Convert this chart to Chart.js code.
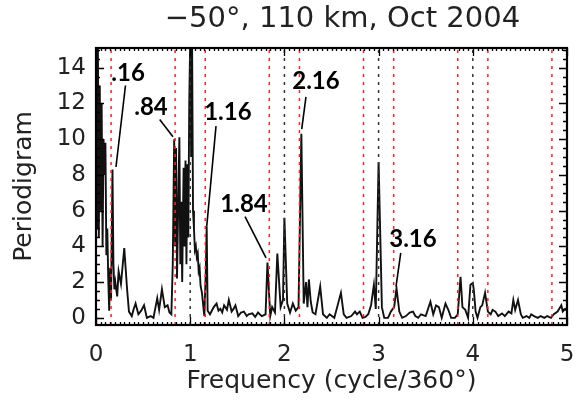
<!DOCTYPE html>
<html>
<head>
<meta charset="utf-8">
<script src="https://cdn.jsdelivr.net/npm/chart.js@4.4.1/dist/chart.umd.min.js"></script>
<style>
  body { margin: 0; background: #fff; }
  canvas { display: block; }
</style>
</head>
<body>
<canvas id="periodogram" width="576" height="409"></canvas>
<script>
// frequency (cycle/360 deg) and periodogram power
const freq = [
    0.00, 0.005, 0.01, 0.015, 0.02, 0.03, 0.04, 0.05, 0.06, 0.07,
    0.08, 0.09, 0.10, 0.11, 0.12, 0.13, 0.14, 0.15, 0.16, 0.175,
    0.185, 0.195, 0.205, 0.225, 0.24, 0.265, 0.30, 0.33, 0.35, 0.38,
    0.40, 0.42, 0.45, 0.48, 0.51, 0.54, 0.58, 0.61, 0.65, 0.67,
    0.70, 0.73, 0.76, 0.78, 0.80, 0.815, 0.83, 0.84, 0.85, 0.86,
    0.875, 0.885, 0.895, 0.905, 0.915, 0.93, 0.94, 0.95, 0.96, 0.97,
    0.98, 0.99, 1.00, 1.01, 1.02, 1.03, 1.04, 1.05, 1.06, 1.07,
    1.08, 1.09, 1.10, 1.11, 1.125, 1.14, 1.15, 1.165, 1.175, 1.185,
    1.21, 1.25, 1.28, 1.30, 1.32, 1.34, 1.36, 1.39, 1.41, 1.44,
    1.46, 1.48, 1.51, 1.54, 1.57, 1.60, 1.62, 1.66, 1.69, 1.72,
    1.76, 1.80, 1.82, 1.85, 1.87, 1.90, 1.925, 1.96, 1.985, 2.00,
    2.03, 2.06, 2.09, 2.12, 2.15, 2.18, 2.205, 2.23, 2.245, 2.26,
    2.28, 2.30, 2.33, 2.38, 2.41, 2.45, 2.48, 2.53, 2.56, 2.60,
    2.63, 2.66, 2.71, 2.75, 2.77, 2.80, 2.83, 2.86, 2.89, 2.92,
    2.95, 2.97, 3.00, 3.035, 3.06, 3.10, 3.13, 3.165, 3.19, 3.22,
    3.25, 3.29, 3.33, 3.365, 3.39, 3.42, 3.45, 3.50, 3.55, 3.58,
    3.61, 3.64, 3.67, 3.71, 3.74, 3.77, 3.81, 3.84, 3.87, 3.89,
    3.92, 3.95, 3.975, 4.00, 4.01, 4.03, 4.05, 4.08, 4.10, 4.13,
    4.16, 4.19, 4.21, 4.24, 4.27, 4.31, 4.34, 4.38, 4.41, 4.43,
    4.45, 4.48, 4.51, 4.53, 4.57, 4.60, 4.62, 4.65, 4.69, 4.72,
    4.76, 4.79, 4.83, 4.86, 4.90, 4.94, 4.955, 4.98, 5.00
];
const power = [
    15.5, 6.0, 14.0, 5.0, 15.5, 4.5, 13.0, 6.0, 12.0, 4.0,
    10.0, 8.0, 9.8, 3.5, 5.0, 2.2, 0.4, 2.8, 1.0, 8.3,
    3.0, 1.6, 2.0, 1.2, 2.6, 1.9, 3.9, 1.6, 0.35, 0.1,
    0.5, 0.8, 0.2, 0.4, 0.7, 0.0, 0.1, 0.0, 1.1, 0.45,
    1.6, 0.6, 0.7, 0.3, 0.2, 3.0, 10.0, 4.0, 9.5, 2.2,
    7.0, 10.1, 3.0, 6.5, 2.0, 8.4, 4.0, 8.8, 3.0, 8.6,
    4.5, 12.0, 15.5, 9.0, 15.5, 6.0, 5.0, 3.8, 4.0, 3.4,
    3.6, 2.6, 2.8, 1.8, 1.4, 0.6, 0.1, 2.5, 5.1, 0.4,
    0.2, 0.6, 0.8, 0.4, 0.5, 0.3, 0.7, 0.45, 1.0, 0.35,
    0.5, 0.7, 0.1, 0.3, 0.35, 0.1, 0.2, 0.25, 0.05, 0.3,
    0.1, 0.2, 3.1, 0.1, 0.6, 0.3, 3.6, 0.6, 1.0, 5.6,
    0.8, 0.3, 0.8, 0.4, 0.6, 10.3, 0.8, 2.0, 0.6, 2.15,
    0.9, 0.3, 0.2, 1.75, 0.2, 0.0, 0.2, 0.0, 0.6, 1.4,
    0.2, 0.0, 0.1, 0.35, 0.2, 0.35, 0.0, 0.05, 0.2, 0.7,
    1.85, 0.5, 8.7, 0.6, 0.0, 0.0, 0.35, 0.6, 1.65, 0.35,
    0.0, 0.1, 0.3, 0.35, 0.1, 0.0, 0.2, 0.1, 0.9, 0.2,
    0.7, 0.6, 0.0, 0.8, 0.45, 0.0, 0.0, 0.2, 2.3, 0.6,
    0.45, 0.0, 1.85, 1.95, 1.6, 0.35, 0.0, 0.6, 0.7, 1.4,
    0.35, 0.2, 0.45, 0.35, 0.1, 0.25, 0.1, 0.35, 0.25, 1.0,
    0.45, 1.0, 0.2, 0.0, 0.1, 0.0, 0.2, 0.1, 0.0, 0.1,
    0.0, 0.1, 0.0, 0.2, 0.35, 0.7, 0.35, 0.5, 0.4
];

// dashed reference frequencies
const sideBandFreqs = [0.16, 0.84, 1.16, 1.84, 2.16, 2.84, 3.16, 3.84, 4.16, 4.84];
const harmonicFreqs = [1, 2, 3, 4];

// tick labels
const xTickValues = [0, 1, 2, 3, 4, 5];
const yTickValues = [0, 2, 4, 6, 8, 10, 12, 14];

// peak labels: text, text position and leader line (data units)
const peakLabels = ['.16', '.84', '1.16', '1.84', '2.16', '3.16'];
const labelPos = [[0.34, 13.7], [0.584, 11.8], [1.40, 11.5], [1.571, 6.37], [2.335, 13.24], [3.365, 4.41]];
const leaderFrom = [[0.313, 13.0], [0.676, 11.1], [1.274, 10.73], [1.582, 5.66], [2.229, 12.36], [3.235, 3.63]];
const leaderTo = [[0.212, 8.44], [0.817, 10.13], [1.175, 5.1], [1.805, 3.35], [2.184, 10.56], [3.185, 1.75]];

const Y_MIN = -0.4;
const Y_MAX = 15.1;
const FONT = 'DejaVu Sans';

function verticalLine(f, color) {
    return {
        data: [{x: f, y: Y_MIN}, {x: f, y: Y_MAX}],
        borderColor: color,
        borderWidth: 1.5,
        borderDash: [3, 5],
        pointRadius: 0,
        order: 1
    };
}

let datasets = [];

// leader lines, on top
for (let i = 0; i < peakLabels.length; i++) {
    datasets.push({
        data: [{x: leaderFrom[i][0], y: leaderFrom[i][1]}, {x: leaderTo[i][0], y: leaderTo[i][1]}],
        borderColor: '#000',
        borderWidth: 1.6,
        pointRadius: 0,
        order: 0
    });
}
sideBandFreqs.forEach(f => datasets.push(verticalLine(f, '#ff2020')));
harmonicFreqs.forEach(f => datasets.push(verticalLine(f, '#333')));

datasets.push({
    data: freq.map((f, i) => ({x: f, y: power[i]})),
    borderColor: '#111',
    borderWidth: 1.9,
    pointRadius: 0,
    tension: 0,
    order: 2
});

/*
 * box, inward ticks, title and peak labels
 */
const framePlugin = {
    id: 'framePlugin',
    afterDatasetsDraw(chart) {
        const {ctx, chartArea: a, scales: {x, y}} = chart;
        ctx.save();
        ctx.strokeStyle = '#000';

        // minor + major ticks on all four sides
        ctx.lineWidth = 1.3;
        ctx.beginPath();
        for (let k = 0; k <= 100; k++) {
            let px = Math.round(x.getPixelForValue(k * 0.05)) + 0.5;
            let len = (k % 20 === 0) ? 8 : 3;
            ctx.moveTo(px, a.bottom); ctx.lineTo(px, a.bottom - len);
            ctx.moveTo(px, a.top); ctx.lineTo(px, a.top + len);
        }
        for (let k = 0; k <= 30; k++) {
            let py = Math.round(y.getPixelForValue(k * 0.5)) + 0.5;
            let len = (k % 4 === 0) ? 8 : 4;
            ctx.moveTo(a.left, py); ctx.lineTo(a.left + len, py);
            ctx.moveTo(a.right, py); ctx.lineTo(a.right - len, py);
        }
        ctx.stroke();

        ctx.lineWidth = 2.2;
        ctx.strokeRect(a.left, a.top, a.right - a.left, a.bottom - a.top);

        // title
        ctx.fillStyle = '#222';
        ctx.font = '29px "' + FONT + '"';
        ctx.textAlign = 'center';
        ctx.textBaseline = 'middle';
        ctx.fillText('\u221250\u00b0, 110 km, Oct 2004', (a.left + a.right) / 2 + 11, 19);

        // peak labels
        ctx.fillStyle = '#000';
        ctx.font = 'bold 24px Lato';
        for (let i = 0; i < peakLabels.length; i++) {
            ctx.fillText(peakLabels[i], x.getPixelForValue(labelPos[i][0]), y.getPixelForValue(labelPos[i][1]));
        }
        ctx.restore();
    }
};

const tickFont = {family: FONT, size: 23};
const titleFont = {family: FONT, size: 25};

new Chart(document.getElementById('periodogram'), {
    type: 'line',
    data: {datasets: datasets},
    options: {
        responsive: false,
        animation: false,
        layout: {padding: {top: 48, right: 9, left: 0, bottom: 0}},
        plugins: {
            legend: {display: false},
            tooltip: {enabled: false},
            title: {display: false}
        },
        scales: {
            x: {
                type: 'linear',
                min: 0,
                max: 5,
                afterBuildTicks: s => { s.ticks = xTickValues.map(v => ({value: v})); },
                afterFit: s => {
                    s.height = 84;
                    // tick labels may overhang the plot box, like the original
                    s.paddingLeft = 0;
                    s.paddingRight = 0;
                },
                grid: {display: false, drawTicks: false},
                border: {display: false},
                ticks: {padding: 16, font: tickFont, color: '#222', maxRotation: 0},
                title: {display: true, text: 'Frequency (cycle/360\u00b0)', font: titleFont, color: '#222', padding: {top: 0, bottom: 13}}
            },
            y: {
                type: 'linear',
                min: Y_MIN,
                max: Y_MAX,
                afterBuildTicks: s => { s.ticks = yTickValues.map(v => ({value: v})); },
                afterFit: s => { s.width = 96; },
                grid: {display: false, drawTicks: false},
                border: {display: false},
                ticks: {padding: 10, font: tickFont, color: '#222'},
                title: {display: true, text: 'Periodigram', font: titleFont, color: '#222', padding: {top: 9, bottom: 0}}
            }
        }
    },
    plugins: [framePlugin]
});
</script>
</body>
</html>
